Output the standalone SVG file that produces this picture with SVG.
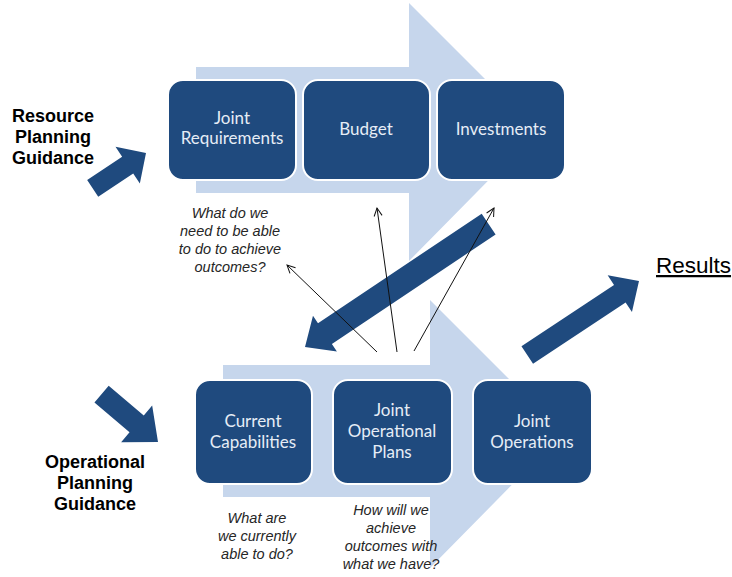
<svg xmlns="http://www.w3.org/2000/svg" width="732" height="577" viewBox="0 0 732 577">
<style>
.flow{fill:#c6d6ec}
.box{fill:#1f4a7e;stroke:#ffffff;stroke-width:2}
.btxt{font-family:Lato,"Open Sans",sans-serif;font-size:17px;fill:#e6edf6;text-anchor:middle}
.bold{font-family:"Liberation Sans",Arial,sans-serif;font-size:18px;font-weight:bold;fill:#000;text-anchor:middle}
.q{font-family:"Liberation Sans",Arial,sans-serif;font-size:14.5px;font-style:italic;fill:#262626;text-anchor:middle}
.dark{fill:#1f4a7e}
.thin{fill:none;stroke:#111;stroke-width:1;marker-end:url(#open)}
</style>
<defs>
<marker id="open" markerUnits="userSpaceOnUse" markerWidth="12" markerHeight="12" refX="0" refY="0" viewBox="-10 -6 12 12" orient="auto" overflow="visible">
<path d="M-8,-4 L0,0 L-8,4" fill="none" stroke="#111" stroke-width="1"/>
</marker>
</defs>
<rect width="732" height="577" fill="#ffffff"/>

<g id="flow-top">
<polygon class="flow" points="196,67 409,67 409,3 537,131 409,261 409,193 196,193"/>
</g>
<g id="flow-bottom">
<polygon class="flow" points="223,365 430,365 430,300 563,433 430,568 430,497 223,497"/>
</g>

<g id="joint-requirements">
<rect class="box" x="168" y="80" width="128" height="100" rx="15"/>
<text class="btxt" x="232" y="124">Joint</text>
<text class="btxt" x="232" y="144">Requirements</text>
</g>
<g id="budget">
<rect class="box" x="303" y="80" width="127" height="100" rx="15"/>
<text class="btxt" x="366" y="135">Budget</text>
</g>
<g id="investments">
<rect class="box" x="437" y="80" width="128" height="100" rx="15"/>
<text class="btxt" x="501" y="135">Investments</text>
</g>

<g id="current-capabilities">
<rect class="box" x="195" y="380" width="117" height="104" rx="15"/>
<text class="btxt" x="253" y="427">Current</text>
<text class="btxt" x="253" y="448">Capabilities</text>
</g>
<g id="joint-operational-plans">
<rect class="box" x="333" y="380" width="119" height="104" rx="15"/>
<text class="btxt" x="392" y="416">Joint</text>
<text class="btxt" x="392" y="437">Operational</text>
<text class="btxt" x="392" y="458">Plans</text>
</g>
<g id="joint-operations">
<rect class="box" x="473" y="380" width="119" height="104" rx="15"/>
<text class="btxt" x="532" y="427">Joint</text>
<text class="btxt" x="532" y="448">Operations</text>
</g>

<g id="resource-planning-guidance">
<text class="bold" x="53" y="122">Resource</text>
<text class="bold" x="53" y="143">Planning</text>
<text class="bold" x="53" y="164">Guidance</text>
</g>
<g id="operational-planning-guidance">
<text class="bold" x="95" y="468">Operational</text>
<text class="bold" x="95" y="489">Planning</text>
<text class="bold" x="95" y="510">Guidance</text>
</g>
<g id="results">
<text x="656" y="273" font-family="'Liberation Sans',Arial,sans-serif" font-size="22.5" fill="#000" text-decoration="underline">Results</text>
</g>

<g id="q-need">
<text class="q" x="230" y="218">What do we</text>
<text class="q" x="230" y="236">need to be able</text>
<text class="q" x="230" y="254">to do to achieve</text>
<text class="q" x="230" y="272">outcomes?</text>
</g>
<g id="q-current">
<text class="q" x="257" y="523">What are</text>
<text class="q" x="257" y="541">we  currently</text>
<text class="q" x="257" y="559">able to do?</text>
</g>
<g id="q-how">
<text class="q" x="391" y="515">How will we</text>
<text class="q" x="391" y="533">achieve</text>
<text class="q" x="391" y="551">outcomes with</text>
<text class="q" x="391" y="569">what  we  have?</text>
</g>

<g id="connectors">
<path class="dark" transform="translate(146,153) rotate(-33.6)" d="M0,0 L-22,-22 L-22,-10 L-64,-10 L-64,10 L-22,10 L-22,22 Z"/>
<path class="dark" transform="translate(158,442) rotate(40.3)" d="M0,0 L-28,-24 L-28,-11 L-74,-11 L-74,11 L-28,11 L-28,24 Z"/>
<path class="dark" transform="translate(305,347) rotate(146.2)" d="M0,0 L-24,-21.5 L-24,-12.5 L-221,-12.5 L-221,12.5 L-24,12.5 L-24,21.5 Z"/>
<path class="dark" transform="translate(639,281) rotate(-33.5)" d="M0,0 L-23,-22 L-23,-10.5 L-134,-10.5 L-134,10.5 L-23,10.5 L-23,22 Z"/>
<line class="thin" x1="377" y1="352" x2="287" y2="265"/>
<line class="thin" x1="397" y1="352" x2="377" y2="208"/>
<line class="thin" x1="414" y1="351" x2="494" y2="208"/>
</g>
</svg>
